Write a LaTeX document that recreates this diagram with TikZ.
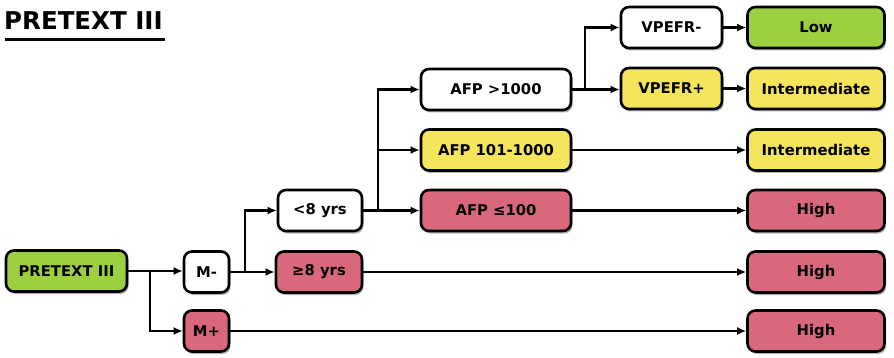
\documentclass[tikz,border=0pt]{standalone}
\usepackage{fontspec}
\setmainfont{DejaVu Sans}
\usetikzlibrary{arrows.meta,shadows}
\definecolor{lowgreen}{HTML}{9CD040}
\definecolor{midyellow}{HTML}{F4E55A}
\definecolor{highpink}{HTML}{D9687C}
\tikzset{
  box/.style={draw=black, line width=2.6pt, rounded corners=8pt, minimum height=41pt,
    font=\bfseries\fontsize{14.8}{17}\selectfont, inner sep=2pt,
    drop shadow={shadow xshift=1.5pt, shadow yshift=-2.5pt, opacity=0.3, fill=black}},
  wbox/.style={box, fill=white},
  gbox/.style={box, fill=lowgreen},
  ybox/.style={box, fill=midyellow},
  pbox/.style={box, fill=highpink},
  link/.style={line width=2.4pt, -{Latex[length=9pt,width=8pt]}}
}
\begin{document}
\begin{tikzpicture}[x=1pt,y=-1pt]
\useasboundingbox (0,0) rectangle (894,358);
% title
\node[anchor=west, font=\bfseries\fontsize{24.5}{28}\selectfont, inner sep=0] (title) at (4,21) {PRETEXT III};
\draw[line width=3pt] (5,40) -- (165,40);
% first level
\node[gbox, minimum width=121pt] (root) at (66.5,271) {PRETEXT III};
\node[wbox, minimum width=45pt] (mneg) at (206.5,272) {M-};
\node[pbox, minimum width=45pt] (mpos) at (206.5,331) {M+};
% age split
\node[wbox, minimum width=84pt] (young) at (320,210.5) {<8 yrs};
\node[pbox, minimum width=86pt] (old) at (319,272) {≥8 yrs};
% AFP split
\node[wbox, minimum width=150pt] (afphi) at (496,89.5) {AFP >1000};
\node[ybox, minimum width=150pt] (afpmid) at (496,150) {AFP 101-1000};
\node[pbox, minimum width=150pt] (afplo) at (496,210.5) {AFP ≤100};
% VPEFR split
\node[wbox, minimum width=101pt] (vneg) at (671.5,27.5) {VPEFR-};
\node[ybox, minimum width=101pt] (vpos) at (671.5,88.5) {VPEFR+};
% outcomes
\node[gbox, minimum width=137pt] (r1) at (816,27.5) {Low};
\node[ybox, minimum width=137pt] (r2) at (816,88.5) {Intermediate};
\node[ybox, minimum width=137pt] (r3) at (816,150) {Intermediate};
\node[pbox, minimum width=137pt] (r4) at (816,210.5) {High};
\node[pbox, minimum width=137pt] (r5) at (816,272) {High};
\node[pbox, minimum width=137pt] (r6) at (816,331) {High};
% branch points
\coordinate (b1) at (150,271);
\coordinate (b2) at (245,272);
\coordinate (b3) at (378,210.5);
\coordinate (b4) at (585,89);
% connectors
\draw[link] (root.east) -- (root.east -| mneg.west);
\draw[link] (b1) |- (mpos.west);
\draw[link] (mneg.east) -- (mneg.east -| old.west);
\draw[link] (b2) |- (young.west);
\draw[link] (young.east) -- (afplo.west);
\draw[link] (b3) |- (afphi.west);
\draw[link] (b3) |- (afpmid.west);
\draw[link] (afphi.east) -- (afphi.east -| vpos.west);
\draw[link] (b4) |- (vneg.west);
\draw[link] (vneg.east) -- (r1.west);
\draw[link] (vpos.east) -- (r2.west);
\draw[link] (afpmid.east) -- (r3.west);
\draw[link] (afplo.east) -- (r4.west);
\draw[link] (old.east) -- (r5.west);
\draw[link] (mpos.east) -- (r6.west);
\end{tikzpicture}
\end{document}
